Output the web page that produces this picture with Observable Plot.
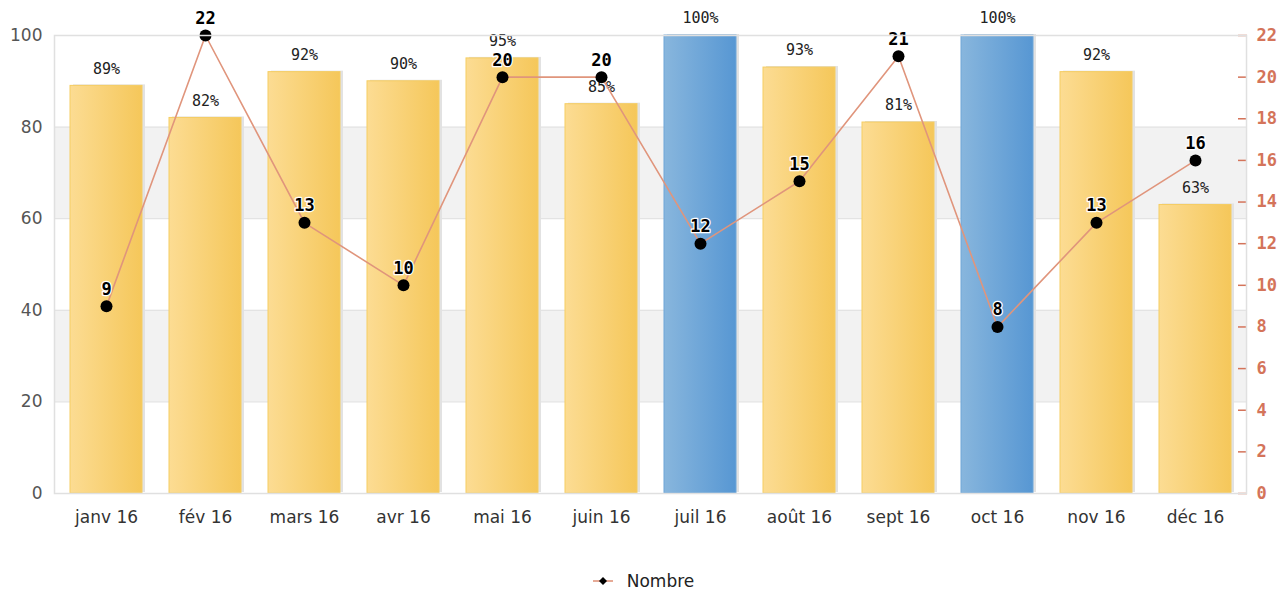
<!DOCTYPE html>
<html><head><meta charset="utf-8">
<script src="https://cdn.jsdelivr.net/npm/d3@7"></script>
<script src="https://cdn.jsdelivr.net/npm/@observablehq/plot@0.6"></script>
<style>
body{margin:0;background:#fff;font-family:"DejaVu Sans",sans-serif}
#legend{height:42px;display:flex;justify-content:center;align-items:center;font-size:17px;color:#222;padding-left:4px}
#legend svg{margin-right:14px}
</style>
</head><body><div id="chart"></div><div id="legend"></div>
<script>
const months = ["janv 16","fév 16","mars 16","avr 16","mai 16","juin 16","juil 16","août 16","sept 16","oct 16","nov 16","déc 16"];
const taux = [89,82,92,90,95,85,100,93,81,100,92,63];
const nombre = [9,22,13,10,20,20,12,15,21,8,13,16];
const pctTicks = [0,20,40,60,80,100];
const countTicks = [0,2,4,6,8,10,12,14,16,18,20,22];
const countMax = 22;
const bands = [[60,80],[20,40]];

const data = months.map((m,i)=>({month:m, taux:taux[i], nombre:nombre[i], ny:nombre[i]*100/countMax, full:taux[i]===100}));
const bandData = bands.map(([a,b])=>({y1:a,y2:b}));

const plot = Plot.plot({
  width:1283, height:560,
  marginTop:35, marginBottom:67, marginLeft:54, marginRight:37,
  x:{domain:months, paddingInner:0.275, paddingOuter:0.14, label:null},
  y:{domain:[0,100], label:null},
  style:{background:"#fff", fontFamily:"DejaVu Sans"},
  marks:[
    Plot.rect(bandData,{y1:"y1", y2:"y2", fill:"#f2f2f2"}),
    Plot.ruleY(pctTicks,{stroke:"#e3e3e3", strokeWidth:1.2}),
    Plot.barY(data,{x:"month", y:"taux", fill:"#e2e2e2", dx:3, dy:-1}),
    Plot.barY(data,{x:"month", y:"taux", fill:d=>d.full?"url(#gBlue)":"url(#gYellow)", stroke:d=>d.full?"#6ea6d8":"#f5cd62", strokeWidth:1}),
    Plot.text(data,{x:"month", y:"taux", text:d=>d.taux+"%", dy:-17, fontFamily:"DejaVu Sans Mono", fontSize:15, fill:"#222"}),
    Plot.line(data,{x:"month", y:"ny", stroke:"#e0957c", strokeWidth:1.6}),
    Plot.dot(data,{x:"month", y:"ny", r:6, fill:"#000", symbol:"circle"}),
    Plot.text(data,{x:"month", y:"ny", text:d=>String(d.nombre), dy:-17, fontFamily:"DejaVu Sans Mono", fontWeight:"bold", fontSize:17, fill:"#000", stroke:"#fff", strokeWidth:2.5, paintOrder:"stroke"}),
    Plot.axisY(pctTicks,{anchor:"left", tickSize:0, tickPadding:12, fontSize:17, fill:"#555", label:null}),
    Plot.axisY(countTicks.map(c=>c*100/countMax),{anchor:"right", tickSize:-9, tickPadding:19, stroke:"#d4745a", strokeWidth:1.5, textAnchor:"start", tickFormat:d=>String(Math.round(d*countMax/100)), fontSize:17, fontFamily:"DejaVu Sans Mono", fontWeight:"bold", fill:"#d4745a", label:null}),
    Plot.axisX({tickSize:0, tickPadding:17, fontSize:17, fill:"#333", label:null}),
    Plot.frame({stroke:"#e0e0e0", strokeWidth:1.5})
  ]
});

const svg = d3.select(plot);
const defs = svg.insert("defs", ":first-child");
const gy = defs.append("linearGradient").attr("id","gYellow").attr("x1","0").attr("x2","1").attr("y1","0").attr("y2","0");
gy.append("stop").attr("offset","0%").attr("stop-color","#fcdc93");
gy.append("stop").attr("offset","100%").attr("stop-color","#f5c75a");
const gb = defs.append("linearGradient").attr("id","gBlue").attr("x1","0").attr("x2","1").attr("y1","0").attr("y2","0");
gb.append("stop").attr("offset","0%").attr("stop-color","#88b6dd");
gb.append("stop").attr("offset","100%").attr("stop-color","#5797d3");
document.getElementById("chart").appendChild(plot);

const leg = d3.select("#legend");
const ls = leg.append("svg").attr("width",20).attr("height",14);
ls.append("line").attr("x1",0).attr("x2",20).attr("y1",7).attr("y2",7).attr("stroke","#e0957c").attr("stroke-width",1.6);
ls.append("path").attr("d","M10,3 L14,7 L10,11 L6,7 Z").attr("fill","#000");
leg.append("span").text("Nombre");
</script>
</body></html>
